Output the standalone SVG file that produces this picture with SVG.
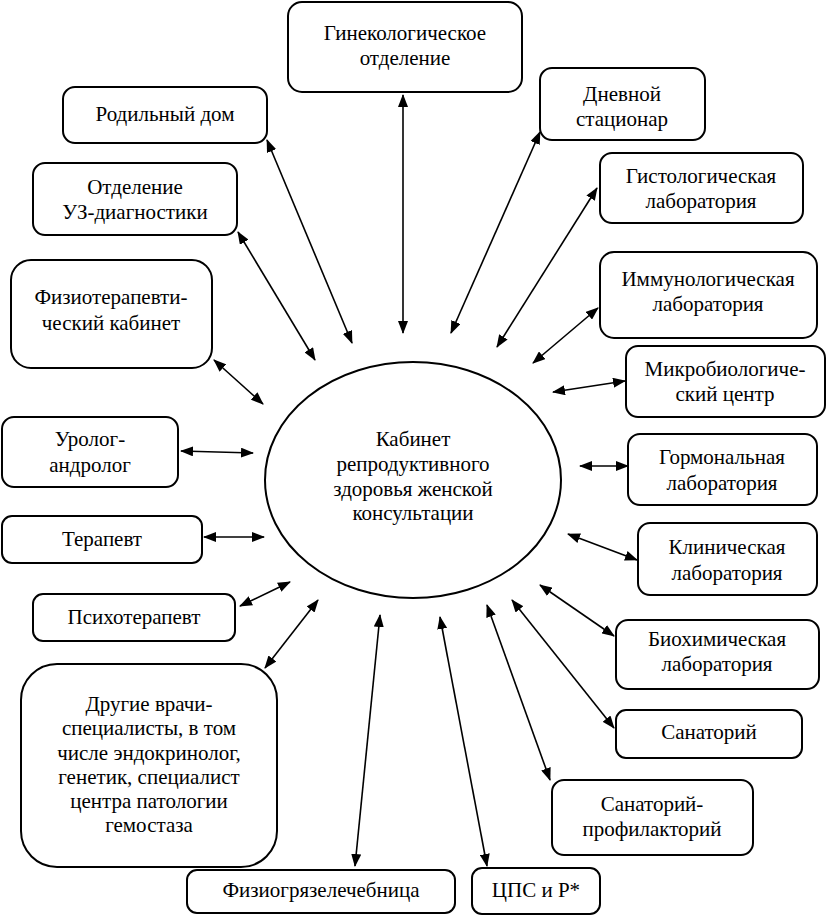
<svg xmlns="http://www.w3.org/2000/svg" width="829" height="916" viewBox="0 0 829 916">
<defs>
<marker id="ah" viewBox="0 0 13 10" refX="12" refY="5" markerWidth="13" markerHeight="10" markerUnits="userSpaceOnUse" orient="auto-start-reverse">
<path d="M0,0 L13,5 L0,10 Z" fill="#000"/>
</marker>
</defs>
<style>
.b{fill:#fff;stroke:#000;stroke-width:2}
.c line{stroke:#000;stroke-width:1.6;marker-start:url(#ah);marker-end:url(#ah)}
</style>
<rect width="829" height="916" fill="#fff"/>
<g id="center"><ellipse class="b" cx="413" cy="480" rx="148" ry="118"/>
<text font-family="Liberation Serif" font-size="21" text-anchor="middle" fill="#000" style="font-family:'Liberation Serif' !important"><tspan x="413" y="446">Кабинет</tspan><tspan x="413" y="471">репродуктивного</tspan><tspan x="413" y="496">здоровья женской</tspan><tspan x="413" y="520">консультации</tspan></text></g>
<g id="n1"><rect class="b" x="288" y="2" width="234" height="90" rx="14"/><text font-family="Liberation Serif" font-size="21" text-anchor="middle" fill="#000" style="font-family:'Liberation Serif' !important"><tspan x="405" y="40">Гинекологическое</tspan><tspan x="405" y="65">отделение</tspan></text></g>
<g id="n2"><rect class="b" x="63" y="87" width="204" height="56" rx="12"/><text font-family="Liberation Serif" font-size="21" text-anchor="middle" fill="#000" style="font-family:'Liberation Serif' !important" x="165" y="121">Родильный дом</text></g>
<g id="n3"><rect class="b" x="33" y="163" width="204" height="72" rx="12"/><text font-family="Liberation Serif" font-size="21" text-anchor="middle" fill="#000" style="font-family:'Liberation Serif' !important"><tspan x="135" y="194">Отделение</tspan><tspan x="135" y="219">УЗ-диагностики</tspan></text></g>
<g id="n4"><rect class="b" x="11" y="260" width="201" height="108" rx="20"/><text font-family="Liberation Serif" font-size="21" text-anchor="middle" fill="#000" style="font-family:'Liberation Serif' !important"><tspan x="111" y="304">Физиотерапевти-</tspan><tspan x="111" y="330">ческий кабинет</tspan></text></g>
<g id="n5"><rect class="b" x="2" y="417" width="176" height="70" rx="12"/><text font-family="Liberation Serif" font-size="21" text-anchor="middle" fill="#000" style="font-family:'Liberation Serif' !important"><tspan x="90" y="446">Уролог-</tspan><tspan x="90" y="472">андролог</tspan></text></g>
<g id="n6"><rect class="b" x="2" y="516" width="200" height="47" rx="10"/><text font-family="Liberation Serif" font-size="21" text-anchor="middle" fill="#000" style="font-family:'Liberation Serif' !important" x="102" y="546">Терапевт</text></g>
<g id="n7"><rect class="b" x="33" y="594" width="202" height="47" rx="10"/><text font-family="Liberation Serif" font-size="21" text-anchor="middle" fill="#000" style="font-family:'Liberation Serif' !important" x="134" y="624">Психотерапевт</text></g>
<g id="n8"><rect class="b" x="21" y="664" width="256" height="203" rx="36"/><text font-family="Liberation Serif" font-size="21" text-anchor="middle" fill="#000" style="font-family:'Liberation Serif' !important"><tspan x="149" y="711">Другие врачи-</tspan><tspan x="149" y="735">специалисты, в том</tspan><tspan x="149" y="760">числе эндокринолог,</tspan><tspan x="149" y="784">генетик, специалист</tspan><tspan x="149" y="808">центра патологии</tspan><tspan x="149" y="832">гемостаза</tspan></text></g>
<g id="n9"><rect class="b" x="187" y="870" width="268" height="43" rx="10"/><text font-family="Liberation Serif" font-size="21" text-anchor="middle" fill="#000" style="font-family:'Liberation Serif' !important" x="321" y="897">Физиогрязелечебница</text></g>
<g id="n10"><rect class="b" x="472" y="868" width="128" height="46" rx="10"/><text font-family="Liberation Serif" font-size="21" text-anchor="middle" fill="#000" style="font-family:'Liberation Serif' !important" x="536" y="897">ЦПС и Р*</text></g>
<g id="n11"><rect class="b" x="552" y="780" width="201" height="75" rx="12"/><text font-family="Liberation Serif" font-size="21" text-anchor="middle" fill="#000" style="font-family:'Liberation Serif' !important"><tspan x="652" y="811">Санаторий-</tspan><tspan x="652" y="836">профилакторий</tspan></text></g>
<g id="n12"><rect class="b" x="616" y="710" width="186" height="48" rx="10"/><text font-family="Liberation Serif" font-size="21" text-anchor="middle" fill="#000" style="font-family:'Liberation Serif' !important" x="709" y="739">Санаторий</text></g>
<g id="n13"><rect class="b" x="616" y="620" width="203" height="69" rx="12"/><text font-family="Liberation Serif" font-size="21" text-anchor="middle" fill="#000" style="font-family:'Liberation Serif' !important"><tspan x="717" y="646">Биохимическая</tspan><tspan x="717" y="671">лаборатория</tspan></text></g>
<g id="n14"><rect class="b" x="638" y="523" width="179" height="72" rx="12"/><text font-family="Liberation Serif" font-size="21" text-anchor="middle" fill="#000" style="font-family:'Liberation Serif' !important"><tspan x="727" y="554">Клиническая</tspan><tspan x="727" y="580">лаборатория</tspan></text></g>
<g id="n15"><rect class="b" x="628" y="434" width="189" height="71" rx="12"/><text font-family="Liberation Serif" font-size="21" text-anchor="middle" fill="#000" style="font-family:'Liberation Serif' !important"><tspan x="722" y="464">Гормональная</tspan><tspan x="722" y="490">лаборатория</tspan></text></g>
<g id="n16"><rect class="b" x="626" y="346" width="199" height="71" rx="12"/><text font-family="Liberation Serif" font-size="21" text-anchor="middle" fill="#000" style="font-family:'Liberation Serif' !important"><tspan x="725" y="376">Микробиологиче-</tspan><tspan x="725" y="401">ский центр</tspan></text></g>
<g id="n17"><rect class="b" x="600" y="252" width="217" height="86" rx="14"/><text font-family="Liberation Serif" font-size="21" text-anchor="middle" fill="#000" style="font-family:'Liberation Serif' !important"><tspan x="708" y="286">Иммунологическая</tspan><tspan x="708" y="311">лаборатория</tspan></text></g>
<g id="n18"><rect class="b" x="600" y="153" width="203" height="70" rx="12"/><text font-family="Liberation Serif" font-size="21" text-anchor="middle" fill="#000" style="font-family:'Liberation Serif' !important"><tspan x="701" y="183">Гистологическая</tspan><tspan x="701" y="208">лаборатория</tspan></text></g>
<g id="n19"><rect class="b" x="540" y="68" width="165" height="72" rx="12"/><text font-family="Liberation Serif" font-size="21" text-anchor="middle" fill="#000" style="font-family:'Liberation Serif' !important"><tspan x="622" y="101">Дневной</tspan><tspan x="622" y="126">стационар</tspan></text></g>
<g id="connectors" class="c">
<line x1="403" y1="95" x2="403" y2="333"/>
<line x1="267" y1="140" x2="352" y2="343"/>
<line x1="238" y1="232" x2="315" y2="360"/>
<line x1="214" y1="360" x2="263" y2="404"/>
<line x1="181" y1="451" x2="253" y2="453"/>
<line x1="204" y1="537" x2="264" y2="537"/>
<line x1="240" y1="606" x2="290" y2="582"/>
<line x1="265" y1="668" x2="318" y2="600"/>
<line x1="355" y1="866" x2="380" y2="615"/>
<line x1="487" y1="866" x2="440" y2="617"/>
<line x1="550" y1="780" x2="487" y2="605"/>
<line x1="614" y1="728" x2="512" y2="600"/>
<line x1="614" y1="636" x2="540" y2="585"/>
<line x1="637" y1="560" x2="568" y2="534"/>
<line x1="628" y1="466" x2="580" y2="466"/>
<line x1="625" y1="381" x2="553" y2="392"/>
<line x1="598" y1="308" x2="533" y2="363"/>
<line x1="597" y1="188" x2="497" y2="347"/>
<line x1="540" y1="132" x2="451" y2="333"/>
</g>
</svg>
